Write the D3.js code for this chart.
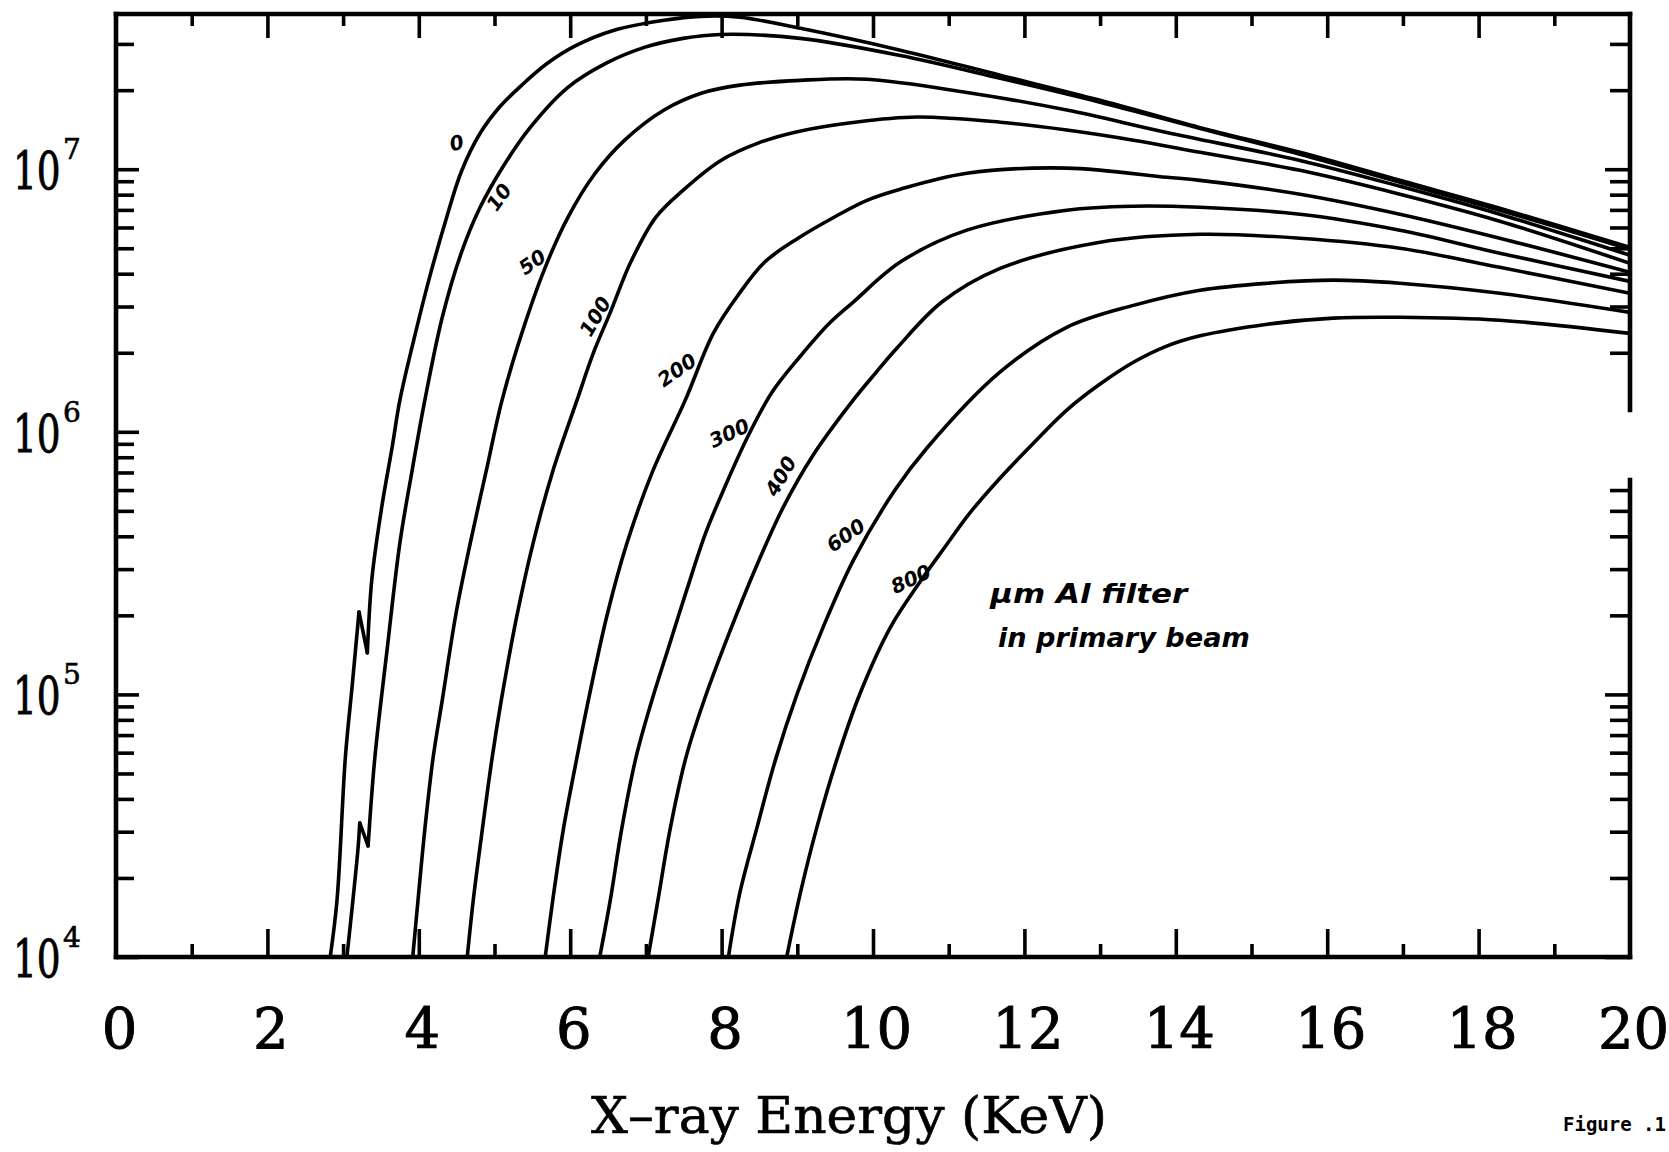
<!DOCTYPE html>
<html>
<head>
<meta charset="utf-8">
<script src="https://cdn.jsdelivr.net/npm/d3@7"></script>
<style>
  html, body { margin: 0; padding: 0; background: #fff; }
  svg { display: block; }
</style>
</head>
<body>
<div id="chart"></div>
<script>
'use strict'

////////////////////////////////////
/////////////// data ///////////////
////////////////////////////////////

// filter thickness of each curve (µm Al)
const filters = ['0', '10', '50', '100', '200', '300', '400', '600', '800']

// [energy keV, intensity]
const curve0 = [[2.83,1.0e4],[2.92,1.65e4],[3.03,5.77e4],[3.12,1.08e5],[3.21,2.06e5],[3.32,1.44e5],[3.38,2.75e5],[3.51,5.16e5],[3.65,8.81e5],[3.75,1.32e6],[3.95,2.34e6],[4.15,3.95e6],[4.35,6.29e6],[4.56,9.76e6],[4.81,1.37e7],[5.07,1.73e7],[5.36,2.09e7],[5.69,2.52e7],[6.06,2.94e7],[6.58,3.38e7],[7.24,3.69e7],[7.72,3.82e7],[8.24,3.79e7],[9.04,3.44e7],[10.36,2.84e7],[11.68,2.28e7],[13.0,1.83e7],[14.32,1.44e7],[15.64,1.16e7],[16.96,9.07e6],[18.28,7.10e6],[20,5.04e6]]
const curve10 = [[3.05,1.0e4],[3.13,1.65e4],[3.20,2.65e4],[3.22,3.24e4],[3.33,2.65e4],[3.42,5.77e4],[3.58,1.47e5],[3.75,3.77e5],[3.91,7.08e5],[4.08,1.32e6],[4.31,2.73e6],[4.56,4.79e6],[4.81,7.16e6],[5.11,1.02e7],[5.47,1.44e7],[5.97,2.05e7],[6.47,2.53e7],[6.98,2.91e7],[7.49,3.15e7],[7.99,3.26e7],[9.04,3.15e7],[10.36,2.71e7],[11.68,2.22e7],[13.0,1.80e7],[14.32,1.43e7],[15.64,1.14e7],[16.96,8.92e6],[18.28,6.98e6],[20,4.96e6]]
const curve50 = [[3.92,1.0e4],[3.99,1.65e4],[4.08,3.07e4],[4.19,5.77e4],[4.31,9.51e4],[4.49,2.02e5],[4.68,3.77e5],[4.89,7.08e5],[5.10,1.32e6],[5.36,2.37e6],[5.67,4.23e6],[5.97,6.56e6],[6.33,9.65e6],[6.72,1.29e7],[7.24,1.68e7],[7.74,1.95e7],[8.24,2.09e7],[9.04,2.18e7],[9.92,2.20e7],[11.24,1.96e7],[12.56,1.68e7],[13.88,1.38e7],[15.64,1.08e7],[16.96,8.61e6],[18.28,6.74e6],[20,4.70e6]]
const curve100 = [[4.64,1.0e4],[4.72,1.65e4],[4.84,3.07e4],[4.97,5.77e4],[5.09,9.51e4],[5.30,2.02e5],[5.51,3.77e5],[5.77,7.08e5],[6.09,1.32e6],[6.31,2.01e6],[6.53,2.85e6],[6.80,4.43e6],[7.13,6.56e6],[7.49,8.31e6],[7.99,1.08e7],[8.49,1.26e7],[9.00,1.39e7],[9.76,1.51e7],[10.58,1.58e7],[11.68,1.51e7],[12.56,1.41e7],[13.44,1.29e7],[14.32,1.16e7],[15.64,9.90e6],[16.96,8.03e6],[18.28,6.34e6],[20,4.38e6]]
const curve200 = [[5.67,1.0e4],[5.77,1.65e4],[5.91,3.07e4],[6.09,5.77e4],[6.24,9.51e4],[6.49,2.02e5],[6.75,3.77e5],[7.09,7.08e5],[7.52,1.32e6],[7.89,2.37e6],[8.22,3.32e6],[8.57,4.43e6],[9.01,5.46e6],[9.51,6.62e6],[9.92,7.61e6],[10.36,8.39e6],[11.24,9.65e6],[12.56,1.01e7],[13.88,9.32e6],[14.32,9.07e6],[15.64,8.03e6],[16.96,6.74e6],[18.28,5.46e6],[20,4.05e6]]
const curve300 = [[6.39,1.0e4],[6.53,1.65e4],[6.68,3.07e4],[6.87,5.77e4],[7.08,9.51e4],[7.29,1.48e5],[7.54,2.50e5],[7.79,4.12e5],[8.06,6.33e5],[8.35,9.64e5],[8.67,1.42e6],[9.04,1.94e6],[9.43,2.60e6],[9.74,3.12e6],[10.36,4.43e6],[11.24,5.86e6],[12.56,6.98e6],[13.44,7.23e6],[14.32,7.16e6],[15.64,6.74e6],[16.96,5.86e6],[18.28,4.79e6],[20,3.74e6]]
const curve400 = [[7.03,1.0e4],[7.16,1.65e4],[7.32,3.07e4],[7.53,5.77e4],[7.77,9.51e4],[8.10,1.71e5],[8.45,3.03e5],[8.81,5.13e5],[9.21,8.16e5],[9.72,1.30e6],[10.03,1.67e6],[10.32,2.09e6],[10.91,3.12e6],[11.68,4.19e6],[13.0,5.27e6],[14.32,5.65e6],[15.64,5.46e6],[16.96,5.00e6],[18.28,4.23e6],[20,3.37e6]]
const curve600 = [[8.09,1.0e4],[8.24,1.75e4],[8.47,3.13e4],[8.71,5.62e4],[9.00,1.01e5],[9.34,1.80e5],[9.74,3.24e5],[10.29,6.00e5],[10.71,8.66e5],[11.68,1.69e6],[12.56,2.50e6],[13.44,3.03e6],[14.32,3.46e6],[15.21,3.68e6],[16.08,3.78e6],[16.96,3.68e6],[18.28,3.37e6],[20,2.85e6]]
const curve800 = [[8.86,1.0e4],[9.04,1.75e4],[9.26,3.13e4],[9.52,5.62e4],[9.83,1.01e5],[10.23,1.80e5],[10.62,2.68e5],[10.95,3.64e5],[11.28,4.91e5],[11.68,6.67e5],[12.07,8.75e5],[12.56,1.21e6],[13.0,1.52e6],[13.44,1.84e6],[13.88,2.12e6],[14.32,2.32e6],[15.21,2.57e6],[16.08,2.71e6],[16.96,2.73e6],[18.28,2.66e6],[20,2.37e6]]

const curves = [curve0, curve10, curve50, curve100, curve200, curve300, curve400, curve600, curve800]

// where each handwritten thickness label sits [keV, intensity]
const filterLabelAt = [[4.50,1.26e7],[5.06,7.83e6],[5.50,4.43e6],[6.33,2.75e6],[7.41,1.72e6],[8.10,9.88e5],[8.78,6.78e5],[9.64,4.04e5],[10.50,2.75e5]]
const filterLabelTilt = [-15, -55, -35, -60, -35, -25, -60, -35, -25]

// axis ranges and ticks
const energyDomain = [0, 20]
const countDomain = [1e4, 3.9e7]
const xTickLabels = [0, 2, 4, 6, 8, 10, 12, 14, 16, 18, 20]
const xMajorTicks = [2, 4, 6, 8, 10, 12, 14, 16, 18]
const xMinorTicks = [1, 3, 5, 7, 9, 11, 13, 15, 17, 19]
const yMajorTicks = [1e4, 1e5, 1e6, 1e7]
const rightAxisGap = [6.55e5, 1.21e6]   // break in the right border

const noteLines = ['\u00b5m Al filter', 'in primary beam']
const noteAt = [[11.55, 2.23e5], [11.65, 1.51e5]]

////////////////////////////////////
//////////// svg setup /////////////
////////////////////////////////////

const svgWidth = 1669
const svgHeight = 1152

const svg = d3.select('#chart')
    .append('svg')
    .attr('width', svgWidth)
    .attr('height', svgHeight)
    .attr('viewBox', `0 0 ${svgWidth} ${svgHeight}`)

svg.append('rect').attr('width', svgWidth).attr('height', svgHeight).attr('fill', '#fff')

const x = d3.scaleLinear().domain(energyDomain).range([116, 1630])
const y = d3.scaleLog().domain(countDomain).range([957, 14])

const [x0, x1] = x.range()
const [yb, yt] = y.range()

svg.append('clipPath').attr('id', 'plot')
    .append('rect').attr('x', x0).attr('y', yt).attr('width', x1 - x0).attr('height', yb - yt)

////////////////////////////////////
/////////////// ticks //////////////
////////////////////////////////////

const isDecade = d => Math.abs(Math.log10(d) - Math.round(Math.log10(d))) < 1e-9
const yMinorTicks = y.ticks().filter(d => !isDecade(d))
const outsideGap = d => d < rightAxisGap[0] || d > rightAxisGap[1]

function tickAxis(axis, pos, values, size) {
    svg.append('g')
        .attr('transform', pos)
        .call(axis.tickValues(values).tickSize(size).tickFormat(''))
        .call(g => g.select('.domain').remove())
        .call(g => g.selectAll('line').attr('stroke', '#000').attr('stroke-width', 3.6))
}

tickAxis(d3.axisBottom(x), `translate(0,${yb})`, xMajorTicks, -28)
tickAxis(d3.axisBottom(x), `translate(0,${yb})`, xMinorTicks, -13)
tickAxis(d3.axisTop(x), `translate(0,${yt})`, xMajorTicks, -24)
tickAxis(d3.axisTop(x), `translate(0,${yt})`, xMinorTicks, -12)
tickAxis(d3.axisLeft(y), `translate(${x0},0)`, yMajorTicks, -23)
tickAxis(d3.axisLeft(y), `translate(${x0},0)`, yMinorTicks, -18)
tickAxis(d3.axisRight(y), `translate(${x1},0)`, yMajorTicks.filter(outsideGap), -25)
tickAxis(d3.axisRight(y), `translate(${x1},0)`, yMinorTicks.filter(outsideGap), -20)

// frame
const frame = svg.append('g').attr('stroke', '#000').attr('stroke-width', 4.6).attr('stroke-linecap', 'square')
frame.append('line').attr('x1', x0).attr('x2', x1).attr('y1', yt).attr('y2', yt)
frame.append('line').attr('x1', x0).attr('x2', x1).attr('y1', yb).attr('y2', yb)
frame.append('line').attr('x1', x0).attr('x2', x0).attr('y1', yt).attr('y2', yb)
frame.append('line').attr('x1', x1).attr('x2', x1).attr('y1', yt).attr('y2', y(rightAxisGap[1]))
frame.append('line').attr('x1', x1).attr('x2', x1).attr('y1', y(rightAxisGap[0])).attr('y2', yb)

////////////////////////////////////
/////////////// labels /////////////
////////////////////////////////////

svg.append('g')
    .attr('transform', `translate(0,${yb})`)
    .call(d3.axisBottom(x).tickValues(xTickLabels).tickSize(0).tickPadding(51).tickFormat(d3.format('d')))
    .call(g => g.select('.domain').remove())
    .call(g => g.selectAll('text')
        .attr('fill', '#000')
        .attr('stroke', '#000')
        .attr('stroke-width', 0.9)
        .attr('dx', 3)
        .style('font-family', '"DejaVu Serif", serif')
        .style('font-size', '56px'))

const yLab = svg.append('g')
    .style('font-family', '"DejaVu Serif", serif')
    .attr('fill', '#000')
    .attr('stroke', '#000')
    .attr('stroke-width', 0.9)

// "10" squeezed sideways like the plotter lettering
yLab.selectAll('.base')
    .data(yMajorTicks)
    .join('text')
    .attr('class', 'base')
    .attr('transform', d => `translate(13,${y(d) + 20}) scale(0.72,1)`)
    .style('font-size', '52px')
    .text('10')

yLab.selectAll('.exp')
    .data(yMajorTicks)
    .join('text')
    .attr('class', 'exp')
    .attr('x', 63)
    .attr('y', d => y(d) - 10)
    .attr('stroke-width', 0.6)
    .style('font-size', '28px')
    .text(d => Math.round(Math.log10(d)))

svg.append('text')
    .attr('x', (x0 + x1) / 2 - 24)
    .attr('y', 1133)
    .attr('text-anchor', 'middle')
    .attr('textLength', 516)
    .attr('lengthAdjust', 'spacingAndGlyphs')
    .attr('stroke', '#000')
    .attr('stroke-width', 0.6)
    .style('font-family', '"DejaVu Serif", serif')
    .style('font-size', '50px')
    .text('X\u2013ray Energy (KeV)')

svg.append('text')
    .attr('x', 1563)
    .attr('y', 1131)
    .style('font-family', '"DejaVu Sans Mono", monospace')
    .style('font-weight', 'bold')
    .style('font-size', '19px')
    .text('Figure .1')

////////////////////////////////////
/////////////// curves /////////////
////////////////////////////////////

const line = d3.line()
    .x(d => x(d[0]))
    .y(d => y(d[1]))
    .curve(d3.curveCatmullRom.alpha(0.5))

// split a curve at its sharp turns (the small zigzag), keeping the peak smooth
function pieces(pts) {
    const top = d3.maxIndex(pts, d => d[1])
    const cuts = [0]
    for (let i = 1; i < pts.length - 1; i++) {
        const turn = (pts[i][1] - pts[i - 1][1]) * (pts[i + 1][1] - pts[i][1]) < 0
        if (turn && i !== top) cuts.push(i)
    }
    cuts.push(pts.length - 1)
    return d3.pairs(cuts).map(([a, b]) => pts.slice(a, b + 1))
}

svg.append('g')
    .attr('clip-path', 'url(#plot)')
    .selectAll('path')
    .data(curves.flatMap(pieces))
    .join('path')
    .attr('d', line)
    .attr('fill', 'none')
    .attr('stroke', '#000')
    .attr('stroke-width', 3.6)
    .attr('stroke-linejoin', 'round')
    .attr('stroke-linecap', 'round')

// handwritten thickness labels
svg.append('g')
    .selectAll('text')
    .data(filters)
    .join('text')
    .attr('transform', (d, i) => `translate(${x(filterLabelAt[i][0])},${y(filterLabelAt[i][1])}) rotate(${filterLabelTilt[i]})`)
    .attr('text-anchor', 'middle')
    .attr('dy', '0.35em')
    .style('font-family', '"DejaVu Sans", sans-serif')
    .style('font-style', 'italic')
    .style('font-weight', 'bold')
    .style('font-size', '20px')
    .text(d => d)

svg.append('g')
    .selectAll('text')
    .data(noteLines)
    .join('text')
    .attr('x', (d, i) => x(noteAt[i][0]))
    .attr('y', (d, i) => y(noteAt[i][1]))
    .attr('textLength', (d, i) => i ? 252 : 197)
    .attr('lengthAdjust', 'spacingAndGlyphs')
    .style('font-family', '"DejaVu Sans", sans-serif')
    .style('font-style', 'italic')
    .style('font-weight', 'bold')
    .style('font-size', '26px')
    .text(d => d)

</script>
</body>
</html>
